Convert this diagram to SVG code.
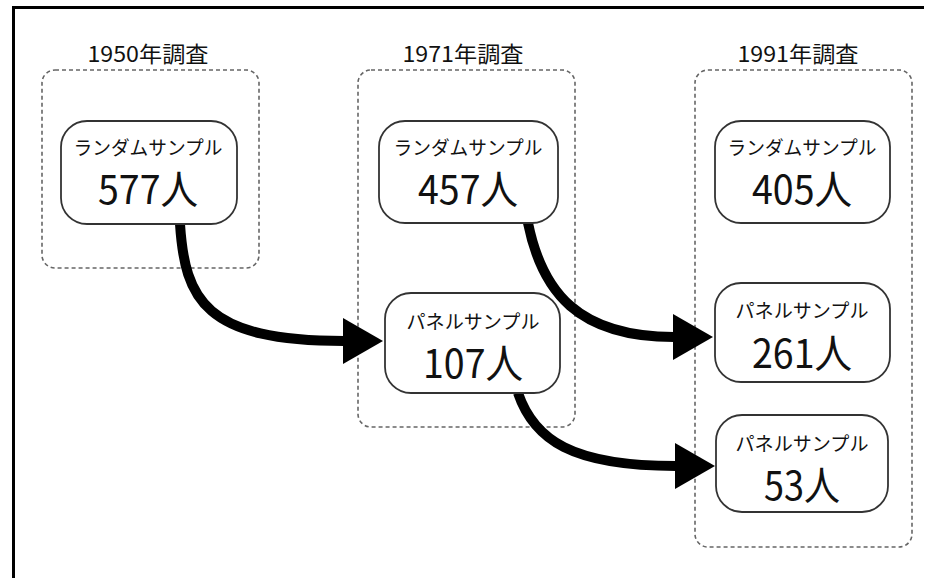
<svg xmlns="http://www.w3.org/2000/svg" width="928" height="578" viewBox="0 0 928 578">
<style>
.frame{fill:none;stroke:#000;stroke-width:3}
.group{fill:none;stroke:#666;stroke-width:1.6;stroke-dasharray:4 3}
.node{fill:#fff;stroke:#333;stroke-width:1.8}
.title{font-family:"Noto Sans CJK JP","Noto Sans",sans-serif;font-size:22px;fill:#111;text-anchor:middle}
.lbl{font-family:"Noto Sans CJK JP","Noto Sans",sans-serif;font-size:19px;fill:#111;text-anchor:middle}
.num{font-family:"Noto Sans CJK JP","Noto Sans",sans-serif;font-size:40px;fill:#111;text-anchor:middle}
.conn{fill:none;stroke:#000;stroke-width:10}
</style>
<defs>
<marker id="ah" viewBox="0 0 40 46" refX="1" refY="23" markerWidth="40" markerHeight="46" markerUnits="userSpaceOnUse" orient="auto">
<path d="M0,0 L40,23 L0,46 Z" fill="#000"/>
</marker>
</defs>
<path class="frame" d="M13.5,578 L13.5,7.5 L924,7.5"/>
<g id="survey1950">
<text class="title" x="148" y="62" textLength="121" lengthAdjust="spacingAndGlyphs">1950年調査</text>
<rect class="group" x="42" y="70" width="217" height="198" rx="13"/>
</g>
<g id="survey1971">
<text class="title" x="463" y="62" textLength="121" lengthAdjust="spacingAndGlyphs">1971年調査</text>
<rect class="group" x="358" y="70" width="217" height="357" rx="13"/>
</g>
<g id="survey1991">
<text class="title" x="798" y="62" textLength="121" lengthAdjust="spacingAndGlyphs">1991年調査</text>
<rect class="group" x="695" y="70" width="217" height="477" rx="13"/>
</g>
<g id="connectors">
<path class="conn" d="M180,224 C185,300 205,341 344,341" marker-end="url(#ah)"/>
<path class="conn" d="M528,223 C542,292 578,337 674,337" marker-end="url(#ah)"/>
<path class="conn" d="M518,393 C534,440 572,466 676,466" marker-end="url(#ah)"/>
</g>
<g id="n1950random">
<rect class="node" x="61" y="121" width="176" height="103" rx="26"/>
<text class="lbl" x="148" y="155" textLength="149" lengthAdjust="spacingAndGlyphs">ランダムサンプル</text>
<text class="num" x="148" y="204" textLength="100" lengthAdjust="spacingAndGlyphs">577人</text>
</g>
<g id="n1971random">
<rect class="node" x="379" y="121" width="179" height="102" rx="26"/>
<text class="lbl" x="468" y="155" textLength="149" lengthAdjust="spacingAndGlyphs">ランダムサンプル</text>
<text class="num" x="468" y="204" textLength="100" lengthAdjust="spacingAndGlyphs">457人</text>
</g>
<g id="n1971panel">
<rect class="node" x="385" y="293" width="175" height="100" rx="26"/>
<text class="lbl" x="473" y="329" textLength="133" lengthAdjust="spacingAndGlyphs">パネルサンプル</text>
<text class="num" x="473" y="378" textLength="100" lengthAdjust="spacingAndGlyphs">107人</text>
</g>
<g id="n1991random">
<rect class="node" x="715" y="121" width="175" height="102" rx="26"/>
<text class="lbl" x="802" y="155" textLength="149" lengthAdjust="spacingAndGlyphs">ランダムサンプル</text>
<text class="num" x="802" y="204" textLength="100" lengthAdjust="spacingAndGlyphs">405人</text>
</g>
<g id="n1991panel261">
<rect class="node" x="715" y="283" width="175" height="99" rx="26"/>
<text class="lbl" x="802" y="318" textLength="133" lengthAdjust="spacingAndGlyphs">パネルサンプル</text>
<text class="num" x="802" y="368" textLength="100" lengthAdjust="spacingAndGlyphs">261人</text>
</g>
<g id="n1991panel53">
<rect class="node" x="716" y="415" width="172" height="97" rx="26"/>
<text class="lbl" x="802" y="451" textLength="133" lengthAdjust="spacingAndGlyphs">パネルサンプル</text>
<text class="num" x="802" y="500" textLength="76" lengthAdjust="spacingAndGlyphs">53人</text>
</g>
</svg>
